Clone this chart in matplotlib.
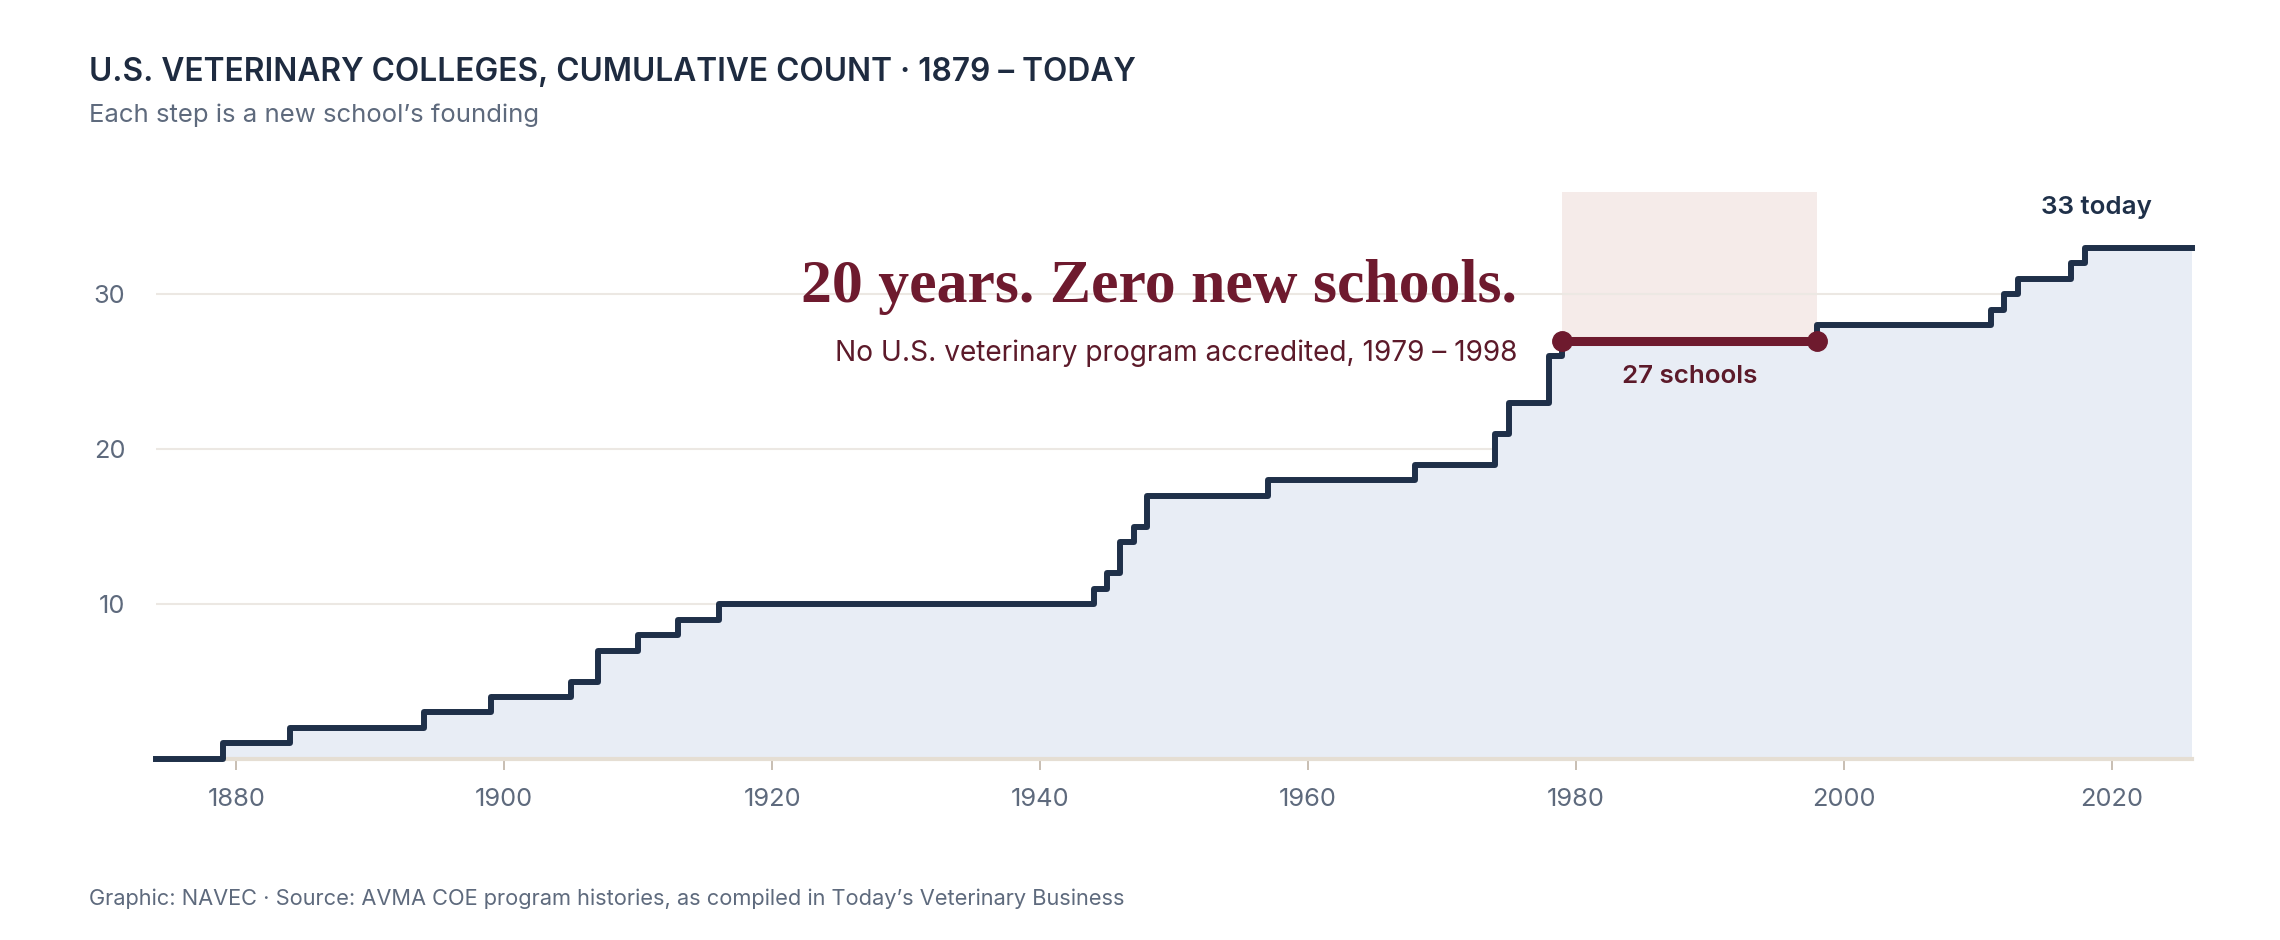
import matplotlib
matplotlib.use("Agg")
import matplotlib.pyplot as plt

# founding years and cumulative count after each one
years = [1879, 1884, 1894, 1899, 1905, 1907, 1910, 1913, 1916, 1944, 1945, 1946, 1947, 1948,
         1957, 1968, 1974, 1975, 1978, 1979, 1998, 2011, 2012, 2013, 2017, 2018]
counts = [1, 2, 3, 4, 5, 7, 8, 9, 10, 11, 12, 14, 15, 17,
          18, 19, 21, 23, 26, 27, 28, 29, 30, 31, 32, 33]
x_start, x_end = 1874, 2026
gap_start, gap_end, gap_count = 1979, 1998, 27
x_ticks = [1880, 1900, 1920, 1940, 1960, 1980, 2000, 2020]
y_ticks = [10, 20, 30]

navy = "#1F3049"
fill = "#E8EDF5"
red = "#6E1A2E"
dark_red = "#5C1A2A"
pink = "#F5EBE9"
gray = "#5E6A7D"

plt.rcParams["font.family"] = ["Inter", "DejaVu Sans"]

xs = [x_start] + years + [x_end]
ys = [0] + counts + [counts[-1]]

fig = plt.figure(figsize=(22.8, 9.4), dpi=100)
ax = fig.add_axes([0.0684, 0.1926, 0.893, 0.603])

ax.axvspan(gap_start, gap_end, ymin=gap_count / 36.6, ymax=1, color=pink, lw=0, zorder=0)
ax.fill_between(xs, ys, step="post", color=fill, lw=0, zorder=1)
ax.step(xs, ys, where="post", color=navy, lw=4.3, zorder=3, clip_on=False)
ax.plot([gap_start, gap_end], [gap_count, gap_count], color=red, lw=6.5,
        marker="o", ms=14, zorder=4, solid_capstyle="butt")

ax.set_xlim(x_start, x_end)
ax.set_ylim(0, 36.6)
ax.set_xticks(x_ticks)
ax.set_yticks(y_ticks)
ax.grid(axis="y", color="#ECE8E3", lw=1.5, zorder=0)
ax.set_axisbelow(True)
for s in ["top", "right", "left"]:
    ax.spines[s].set_visible(False)
ax.spines["bottom"].set_color("#E5DED3")
ax.spines["bottom"].set_linewidth(3)
ax.spines["bottom"].set_zorder(2)
ax.tick_params(axis="x", colors="#BFB3A5", length=8, width=1.2, pad=13, labelsize=18.3, labelcolor=gray)
ax.tick_params(axis="y", length=0, pad=22, labelsize=18.3, labelcolor=gray)

ax.text(1975.6, 30.5, "20 years. Zero new schools.", ha="right", va="center",
        family=["Liberation Serif", "DejaVu Serif"], fontweight="bold", fontsize=44.5, color=red)
ax.text(1975.6, 26.2, "No U.S. veterinary program accredited, 1979 \u2013 1998", ha="right", va="center",
        fontsize=20.2, color=dark_red)
ax.text((gap_start + gap_end) / 2, 24.7, "27 schools", ha="center", va="center",
        fontsize=18.7, fontweight="semibold", color=dark_red)
ax.text(2018.9, 35.6, "33 today", ha="center", va="center",
        fontsize=18.7, fontweight="semibold", color=navy)

fig.text(0.039, 0.914, "U.S. VETERINARY COLLEGES, CUMULATIVE COUNT \u00b7 1879 \u2013 TODAY",
         fontsize=22.8, fontweight="semibold", color="#1E2B40", va="baseline")
fig.text(0.039, 0.870, "Each step is a new school\u2019s founding",
         fontsize=18.5, color=gray, va="baseline")
fig.text(0.039, 0.037, "Graphic: NAVEC \u00b7 Source: AVMA COE program histories, as compiled in Today\u2019s Veterinary Business",
         fontsize=15.7, color=gray, va="baseline")

fig.savefig("out.png", dpi=100)
